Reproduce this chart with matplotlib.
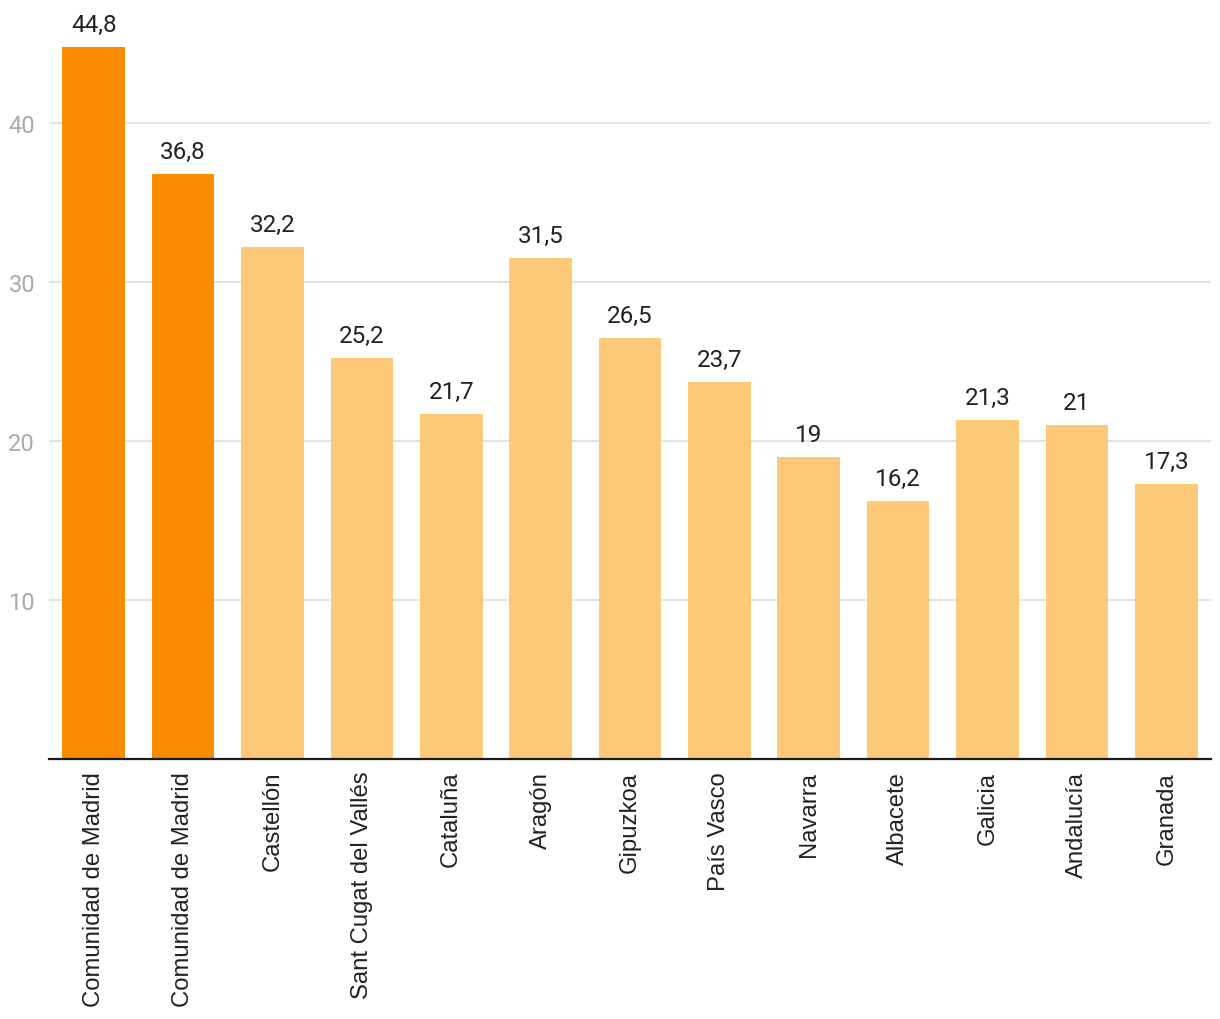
import matplotlib.pyplot as plt

regiones = ["Comunidad de Madrid", "Comunidad de Madrid", "Castellón", "Sant Cugat del Vallés",
            "Cataluña", "Aragón", "Gipuzkoa", "País Vasco", "Navarra", "Albacete",
            "Galicia", "Andalucía", "Granada"]
valores = [44.8, 36.8, 32.2, 25.2, 21.7, 31.5, 26.5, 23.7, 19, 16.2, 21.3, 21, 17.3]
destacados = [True, True] + [False] * 11

OSCURO = "#F98C00"
CLARO = "#FDC978"

fig = plt.figure(figsize=(12.2, 10.2), dpi=100)
# baseline en y=760 px, eje de 49 a 1211 px
ax = fig.add_axes([49 / 1220, 1 - 760 / 1020, 1162 / 1220, 760 / 1020])

colores = [OSCURO if d else CLARO for d in destacados]
x = range(len(valores))
barras = ax.bar(x, valores, width=0.7, color=colores, zorder=2)

ax.set_xlim(-0.5, len(valores) - 0.5)
ax.set_ylim(0, 760 / 15.9)

for b, v in zip(barras, valores):
    txt = f"{v:g}".replace(".", ",")
    ax.annotate(txt, (b.get_x() + b.get_width() / 2, v), xytext=(0, 8),
                textcoords="offset points", ha="center", va="bottom",
                fontsize=17.5, family="Roboto", color="#222222")

ax.set_yticks([10, 20, 30, 40])
ax.yaxis.grid(True, color="#e3e3e3", linewidth=1.5, zorder=0)
ax.tick_params(axis="y", length=0, pad=10, labelsize=17, labelcolor="#aaaaaa")
for lbl in ax.get_yticklabels():
    lbl.set_family("Roboto")

ax.set_xticks(list(x))
ax.set_xticklabels(regiones, rotation=90, fontsize=17.2, family="Liberation Sans",
                   color="#222222")
ax.tick_params(axis="x", length=0, pad=8.5)

for s in ["top", "right", "left"]:
    ax.spines[s].set_visible(False)
ax.spines["bottom"].set_color("#1a1a1a")
ax.spines["bottom"].set_linewidth(1.6)
ax.spines["bottom"].set_zorder(3)

fig.savefig("out.png", dpi=100)
